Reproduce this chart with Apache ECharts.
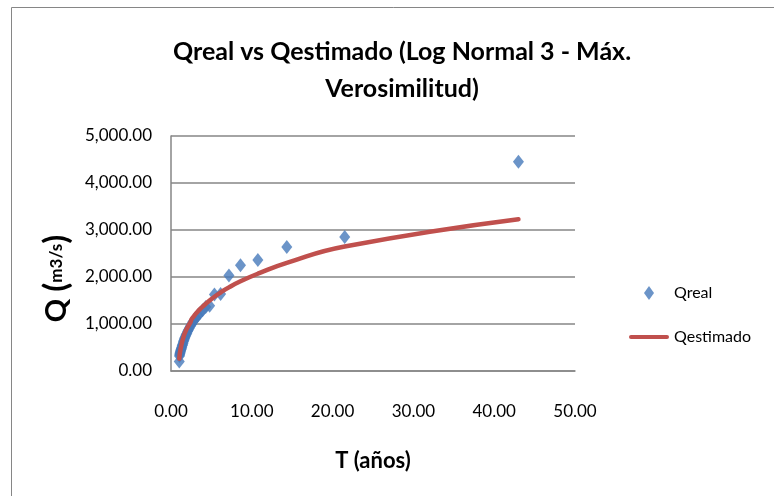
<!DOCTYPE html>
<html>
<head>
<meta charset="utf-8">
<script src="https://cdn.jsdelivr.net/npm/echarts@6/dist/echarts.min.js"></script>
<style>
  html, body { margin: 0; padding: 0; background: #fff; }
  #chart { width: 774px; height: 496px; }
</style>
</head>
<body>
<div id="chart"></div>
<script>
// Return period T (años), ranked largest to smallest
const periods = [43, 21.5, 14.33, 10.75, 8.6, 7.17, 6.14, 5.375, 4.78, 4.3,
    3.91, 3.58, 3.31, 3.07, 2.87, 2.69, 2.53, 2.39, 2.26, 2.15,
    2.05, 1.955, 1.87, 1.79, 1.72, 1.654, 1.593, 1.536, 1.483, 1.433,
    1.387, 1.344, 1.303, 1.265, 1.229, 1.194, 1.162, 1.132, 1.103, 1.075,
    1.049, 1.024];

// Observed discharge (m3/s)
const qReal = [4450, 2850, 2640, 2360, 2250, 2030, 1640, 1630, 1390, 1360,
    1290, 1230, 1180, 1120, 1080, 1040, 990, 950, 910, 870,
    840, 800, 770, 740, 710, 680, 650, 620, 590, 560,
    540, 510, 490, 470, 450, 430, 410, 390, 370, 345,
    320, 200];

// Log Normal 3 estimate (m3/s)
const qEstimado = [3230, 2650, 2300, 2070, 1910, 1780, 1670, 1580, 1500, 1430,
    1370, 1315, 1265, 1220, 1175, 1135, 1095, 1030, 995, 960,
    930, 900, 870, 840, 810, 780, 750, 715, 685, 655,
    625, 595, 565, 535, 505, 475, 445, 415, 385, 350,
    310, 260];

const font = 'Lato, "Open Sans", sans-serif';
const gray = '#868686';
const blue = '#4679BA';
const red = '#C0504D';

const chart = echarts.init(document.getElementById('chart'));

const option = {
    animation: false,
    backgroundColor: '#fff',
    title: {
        text: 'Qreal vs Qestimado (Log Normal 3 - Máx.\nVerosimilitud)',
        left: 397,
        top: 28,
        textAlign: 'center',
        textStyle: {
            fontFamily: font,
            fontSize: 25,
            fontWeight: 'bold',
            color: '#000',
            lineHeight: 37,
        },
    },
    graphic: [{
        type: 'rect',
        shape: { x: 11.5, y: 7.5, width: 900, height: 700 },
        style: { fill: 'none', stroke: gray, lineWidth: 1 },
        silent: true,
    }],
    legend: {
        orient: 'vertical',
        left: 624,
        top: 280,
        itemWidth: 40,
        itemHeight: 14,
        itemGap: 28,
        symbolKeepAspect: true,
        textStyle: { fontFamily: font, fontSize: 16, color: '#000' },
        data: [
            { name: 'Qreal', icon: 'path://M5,0 L10,7 L5,14 L0,7 Z' },
            { name: 'Qestimado', icon: 'path://M2,0 L38,0 A2,2 0 0 1 38,4 L2,4 A2,2 0 0 1 2,0 Z' },
        ],
    },
    grid: {
        left: 171,
        right: 199,
        top: 136,
        bottom: 125,
        containLabel: false,
    },
    xAxis: {
        type: 'value',
        min: 0,
        max: 50,
        interval: 10,
        name: 'T (años)',
        nameLocation: 'middle',
        nameGap: 79,
        nameTextStyle: { fontFamily: font, fontSize: 22, fontWeight: 'bold', color: '#000' },
        axisLine: { show: true, lineStyle: { color: gray, width: 1.5 } },
        axisTick: { show: false },
        splitLine: { show: false },
        axisLabel: {
            margin: 32,
            fontFamily: font,
            fontSize: 17,
            color: '#000',
            formatter: v => v.toFixed(2),
        },
    },
    yAxis: {
        type: 'value',
        min: 0,
        max: 5000,
        interval: 1000,
        name: '{a|Q }{p|(}{b|m3/s}{p|)}',
        nameLocation: 'middle',
        nameRotate: 90,
        nameGap: 98,
        nameTextStyle: {
            padding: [0, 50, 0, 0],
            rich: {
                a: { fontFamily: font, fontSize: 29, fontWeight: 'bold', color: '#000' },
                p: { fontFamily: font, fontSize: 33, fontWeight: 'bold', color: '#000' },
                b: { fontFamily: font, fontSize: 17, fontWeight: 'bold', color: '#000' },
            },
        },
        axisLine: { show: true, lineStyle: { color: gray, width: 1.5 } },
        axisTick: { show: false },
        splitLine: { show: true, lineStyle: { color: gray, width: 1.5 } },
        axisLabel: {
            margin: 19,
            fontFamily: font,
            fontSize: 17,
            color: '#000',
            formatter: v => v.toLocaleString('en-US', { minimumFractionDigits: 2, maximumFractionDigits: 2 }),
        },
    },
    series: [
        {
            name: 'Qreal',
            type: 'scatter',
            symbol: 'diamond',
            symbolSize: [11, 14],
            itemStyle: { color: blue },
            data: periods.map((t, i) => [t, qReal[i]]),
            z: 2,
        },
        {
            name: 'Qestimado',
            type: 'line',
            symbol: 'none',
            smooth: true,
            lineStyle: { color: red, width: 4.5, cap: 'round' },
            itemStyle: { color: red },
            data: periods.map((t, i) => [t, qEstimado[i]]),
            z: 3,
        },
    ],
};

chart.setOption(option);
</script>
</body>
</html>
